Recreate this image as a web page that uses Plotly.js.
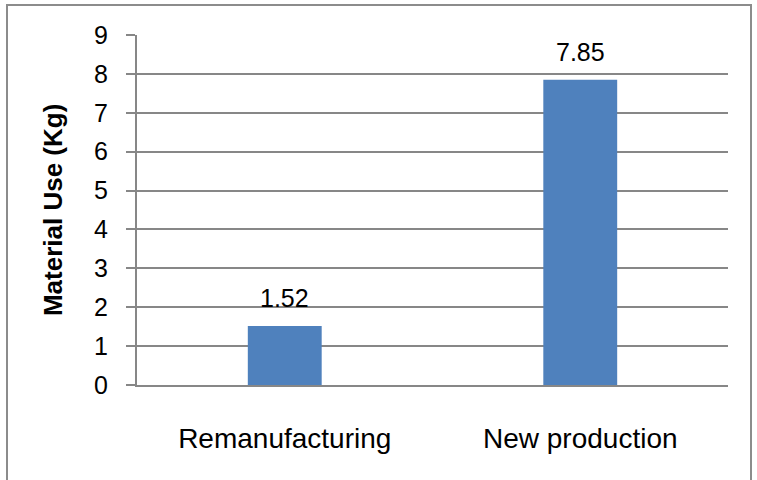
<!DOCTYPE html>
<html>
<head>
<meta charset="utf-8">
<script src="https://cdn.plot.ly/plotly-3.0.1.min.js"></script>
<style>html,body{margin:0;padding:0;background:#fff;}#chart{width:757px;height:480px;}</style>
</head>
<body>
<div id="chart"></div>
<script>
const categories = ["Remanufacturing", "New production"];
const materialUse = [1.52, 7.85];
const valueLabels = ["1.52", "7.85"];
const yTicks = [0, 1, 2, 3, 4, 5, 6, 7, 8, 9];
const yTitle = "Material Use (Kg)";

const FONT = "Liberation Sans, Arial, sans-serif";
const GRID = "#878787";

const trace = {
  type: "bar",
  x: categories,
  y: materialUse,
  marker: { color: "#4f81bd", line: { width: 0 } },
  hoverinfo: "skip"
};

const annotations = categories.map((c, i) => ({
  x: c, y: materialUse[i], xref: "x", yref: "y",
  text: valueLabels[i], showarrow: false,
  yanchor: "bottom", yshift: 12,
  font: { family: FONT, size: 25, color: "#000" }
}));
annotations.push({
  xref: "paper", yref: "paper", x: -0.142, y: 0.5,
  text: "<b>" + yTitle + "</b>", showarrow: false, textangle: -90,
  xanchor: "center", yanchor: "middle",
  font: { family: FONT, size: 26, color: "#000" }
});

const layout = {
  width: 757, height: 480,
  margin: { l: 137, r: 29, t: 35, b: 95 },
  paper_bgcolor: "#fff", plot_bgcolor: "#fff",
  showlegend: false,
  bargap: 0.75,
  xaxis: {
    type: "category",
    showline: true, linecolor: GRID, linewidth: 2,
    ticks: "", showgrid: false,
    tickfont: { family: FONT, size: 28, color: "#000" },
    ticklabelstandoff: 27
  },
  yaxis: {
    range: [0, 9],
    tickvals: yTicks,
    ticktext: yTicks.map(String),
    showline: true, linecolor: GRID, linewidth: 2,
    ticks: "outside", ticklen: 9, tickcolor: GRID, tickwidth: 2,
    showgrid: true, gridcolor: GRID, gridwidth: 2,
    zeroline: false,
    tickfont: { family: FONT, size: 25, color: "#000" },
    ticklabelstandoff: 13
  },
  annotations: annotations,
  shapes: [{
    type: "rect", xref: "paper", yref: "paper",
    x0: (7 - 137) / 591, x1: (751 - 137) / 591,
    y0: (385 - 484) / 350, y1: (385 - 5) / 350,
    line: { color: "#8c8c8c", width: 2 }, fillcolor: "rgba(0,0,0,0)", layer: "below"
  }]
};

Plotly.newPlot("chart", [trace], layout, { staticPlot: true, displayModeBar: false });
</script>
</body>
</html>
